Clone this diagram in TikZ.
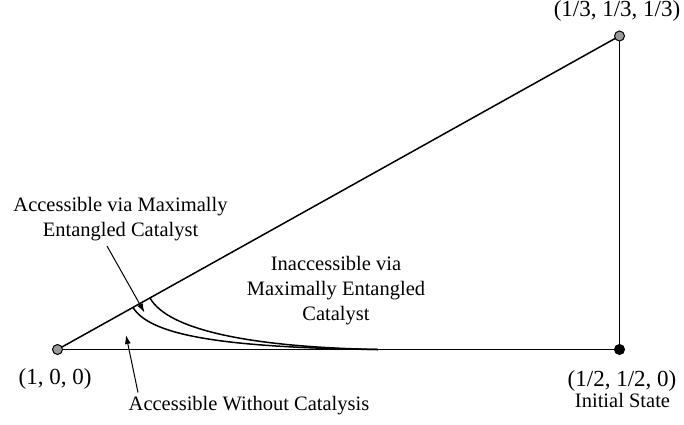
\documentclass[tikz,border=0pt]{standalone}
\usepackage{fontspec}
\setmainfont{Liberation Serif}
\usetikzlibrary{arrows.meta}
\begin{document}
\begin{tikzpicture}[x=1pt,y=-1pt,
  edge/.style={line width=1.5pt},
  vtx/.style={circle,draw=black,line width=1pt,inner sep=0pt,minimum size=10pt,fill=gray!80},
  lbl/.style={font=\fontsize{20.5}{25}\selectfont,align=center,inner sep=0pt},
  coordlbl/.style={font=\fontsize{23}{25}\selectfont,anchor=base,inner sep=0pt},
  pointer/.style={line width=1pt,-{Latex[length=9pt,width=6pt]}}]
\useasboundingbox (0,0) rectangle (684,424);
% triangle
\coordinate (Ac) at (57.5,349.5);
\coordinate (Tc) at (619.5,36);
\coordinate (Bc) at (619.5,349.5);
\draw[edge] (Ac) -- (Tc);
\draw[edge] (Tc) -- (Bc);
\draw[edge] (Ac) -- (Bc);
% vertices
\node[vtx] (A) at (Ac) {};
\node[vtx] (T) at (Tc) {};
\node[vtx,fill=black] (B) at (Bc) {};
% curves
\coordinate (c1s) at (133,307.5);
\coordinate (c2s) at (150,298);
\coordinate (ce) at (378,349.5);
\draw[edge] (c1s) .. controls (150,335) and (220,347.5) .. (ce);
\draw[edge] (c2s) .. controls (168,330) and (250,347) .. (ce);
% labels
\node[coordlbl] (lT) at (617,16.5) {(1/3, 1/3, 1/3)};
\node[coordlbl] (lA) at (55,384) {(1, 0, 0)};
\node[coordlbl] (lB) at (622,386.5) {(1/2, 1/2, 0)};
\node[lbl,anchor=base] (lInit) at (622.5,407) {Initial State};
\node[lbl,anchor=base] (lMax1) at (120.5,211.5) {Accessible via Maximally};
\node[lbl,anchor=base] (lMax2) at (120.5,236.5) {Entangled Catalyst};
\node[lbl,anchor=base] (lIn1) at (336,270) {Inaccessible via};
\node[lbl,anchor=base] (lIn2) at (336,295) {Maximally Entangled};
\node[lbl,anchor=base] (lIn3) at (336,320) {Catalyst};
\node[lbl,anchor=base] (lWo) at (249,410) {Accessible Without Catalysis};
% pointers
\coordinate (p1s) at (107,246);
\coordinate (p1e) at (144.5,312.5);
\coordinate (p2s) at (138,392.5);
\coordinate (p2e) at (126,335);
\draw[pointer] (p1s) -- (p1e);
\draw[pointer] (p2s) -- (p2e);
\end{tikzpicture}
\end{document}
